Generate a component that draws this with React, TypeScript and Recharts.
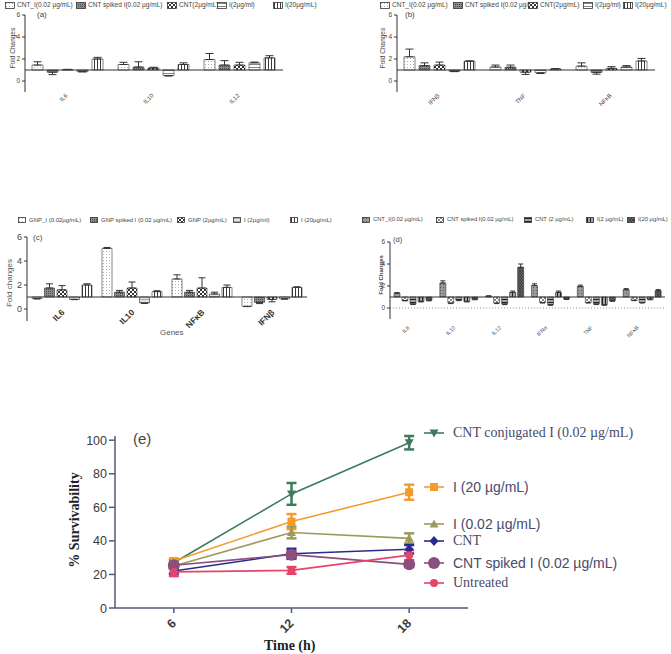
import React from "react";
import { BarChart, Bar, XAxis, YAxis, ErrorBar, ReferenceLine, LineChart, Line } from "recharts";

const SANS = "'Liberation Sans', Arial, sans-serif";
const SERIF = "'Liberation Serif', 'Times New Roman', serif";

// (a) CNT conjugate, interleukins
const genesA = ["IL6", "IL10", "IL12"];
const namesA = ["CNT_I(0.02 µg/mL)", "CNT spiked I(0.02 µg/mL)", "CNT(2µg/mL)", "I(2µg/ml)", "I(20µg/mL)"];
const a_cntI = [1.45, 1.5, 1.95];
const a_cntIErr = [0.3, 0.2, 0.55];
const a_spiked = [0.8, 1.27, 1.45];
const a_spikedErr = [0.22, 0.48, 0.4];
const a_cnt2 = [1.03, 1.18, 1.45];
const a_cnt2Err = [0.03, 0.07, 0.25];
const a_i2 = [0.85, 0.5, 1.65];
const a_i2Err = [0.02, 0.05, 0.07];
const a_i20 = [2.0, 1.5, 2.1];
const a_i20Err = [0.15, 0.15, 0.2];

// (b) CNT conjugate, IFN / TNF / NFkB
const genesB = ["IFNβ", "TNF", "NFκB"];
const namesB = ["CNT_I(0.02 µg/mL)", "CNT spiked I(0.02 µg/mL", "CNT(2µg/mL)", "I(2µg/ml)", "I(20µg/mL)"];
const b_cntI = [2.2, 1.27, 1.35];
const b_cntIErr = [0.7, 0.18, 0.3];
const b_spiked = [1.4, 1.25, 0.78];
const b_spikedErr = [0.25, 0.2, 0.16];
const b_cnt2 = [1.45, 0.8, 1.15];
const b_cnt2Err = [0.27, 0.2, 0.15];
const b_i2 = [0.88, 0.75, 1.27];
const b_i2Err = [0.03, 0.07, 0.13];
const b_i20 = [1.8, 1.1, 1.82];
const b_i20Err = [0.03, 0.02, 0.23];

// (c) GNP conjugate
const genesC = ["IL6", "IL10", "NFκB", "IFNβ"];
const namesC = ["GNP_I (0.02µg/mL)", "GNP spiked I (0.02 µg/mL)", "GNP (2µg/mL)", "I (2µg/ml)", "I (20µg/mL)"];
const c_gnpI = [0.88, 5.05, 2.5, 0.22];
const c_gnpIErr = [0.05, 0.08, 0.35, 0.02];
const c_spiked = [1.75, 1.4, 1.4, 0.55];
const c_spikedErr = [0.35, 0.15, 0.15, 0.1];
const c_gnp2 = [1.6, 1.75, 1.75, 0.8];
const c_gnp2Err = [0.35, 0.5, 0.85, 0.2];
const c_i2 = [0.8, 0.5, 1.25, 0.85];
const c_i2Err = [0.02, 0.03, 0.15, 0.03];
const c_i20 = [2.0, 1.45, 1.8, 1.8];
const c_i20Err = [0.1, 0.07, 0.2, 0.05];

// (d) CNT conjugate, six genes
const genesD = ["IL6", "IL10", "IL12", "IFNα", "TNF", "NFκB"];
const namesD = ["CNT_I(0.02 µg/mL)", "CNT spiked I(0.02 µg/mL)", "CNT (2 µg/mL)", "I(2 µg/mL)", "I(20 µg/mL)"];
const d_cntI = [1.35, 2.27, 1.08, 2.05, 1.96, 1.66];
const d_cntIErr = [0.05, 0.2, 0.02, 0.15, 0.12, 0.1];
const d_spiked = [0.68, 0.45, 0.45, 0.5, 0.5, 0.7];
const d_spikedErr = [0.03, 0.05, 0.05, 0.05, 0.05, 0.03];
const d_cnt2 = [0.36, 0.72, 0.36, 0.3, 0.36, 0.5];
const d_cnt2Err = [0.05, 0.05, 0.05, 0.05, 0.05, 0.05];
const d_i2 = [0.6, 0.6, 1.42, 1.42, 0.3, 0.8];
const d_i2Err = [0.05, 0.05, 0.12, 0.12, 0.05, 0.05];
const d_i20 = [0.7, 0.8, 3.7, 0.82, 0.66, 1.57];
const d_i20Err = [0.05, 0.05, 0.3, 0.05, 0.05, 0.1];

// (e) survivability over time
const hours = [6, 12, 18];
const conj = [27, 68, 98.5];
const conjErr = [1.5, 6.5, 4];
const i20 = [28, 51.5, 69];
const i20Err = [1.5, 4.5, 4.5];
const i002 = [25, 45, 41.5];
const i002Err = [1.5, 3.5, 3];
const cnt = [22, 32.3, 35];
const cntErr = [1.5, 3, 2.5];
const spiked = [25.5, 31.8, 26];
const spikedErr = [1.5, 2, 1.5];
const untreated = [21.5, 22.4, 31.5];
const untreatedErr = [2.5, 2, 3];

const AXIS_E = "#55587a";

const Patterns = () => (
  <svg width={0} height={0} style={{ position: "absolute" }}>
    <defs>
      <pattern id="pDots" width="3" height="3" patternUnits="userSpaceOnUse">
        <rect width="3" height="3" fill="#fff" />
        <circle cx="1.5" cy="1.5" r="0.5" fill="#999" />
      </pattern>
      <pattern id="pDark" width="2" height="2" patternUnits="userSpaceOnUse">
        <rect width="2" height="2" fill="#8c8c8c" />
        <rect width="1" height="1" fill="#4a4a4a" />
      </pattern>
      <pattern id="pCheck" width="4" height="4" patternUnits="userSpaceOnUse">
        <rect width="4" height="4" fill="#fff" />
        <rect width="2" height="2" fill="#333" />
        <rect x="2" y="2" width="2" height="2" fill="#333" />
      </pattern>
      <pattern id="pHoriz" width="3" height="3" patternUnits="userSpaceOnUse">
        <rect width="3" height="3" fill="#fff" />
        <line x1="0" y1="1.5" x2="3" y2="1.5" stroke="#666" strokeWidth="0.8" />
      </pattern>
      <pattern id="pVert" width="3" height="3" patternUnits="userSpaceOnUse">
        <rect width="3" height="3" fill="#fff" />
        <line x1="1.5" y1="0" x2="1.5" y2="3" stroke="#222" strokeWidth="0.9" />
      </pattern>
      <pattern id="pHorizLight" width="3" height="3" patternUnits="userSpaceOnUse">
        <rect width="3" height="3" fill="#e4e4e4" />
        <line x1="0" y1="1.5" x2="3" y2="1.5" stroke="#999" strokeWidth="0.8" />
      </pattern>
      <pattern id="pGrayDots" width="3" height="3" patternUnits="userSpaceOnUse">
        <rect width="3" height="3" fill="#9a9a9a" />
        <circle cx="1.5" cy="1.5" r="0.6" fill="#555" />
      </pattern>
      <pattern id="pCheckLight" width="4" height="4" patternUnits="userSpaceOnUse">
        <rect width="4" height="4" fill="#fff" />
        <rect width="2" height="2" fill="#888" />
        <rect x="2" y="2" width="2" height="2" fill="#888" />
      </pattern>
      <pattern id="pHorizDark" width="3" height="3" patternUnits="userSpaceOnUse">
        <rect width="3" height="3" fill="#ddd" />
        <line x1="0" y1="1.5" x2="3" y2="1.5" stroke="#222" strokeWidth="1.6" />
      </pattern>
      <pattern id="pVertDark" width="3" height="3" patternUnits="userSpaceOnUse">
        <rect width="3" height="3" fill="#ddd" />
        <line x1="1.5" y1="0" x2="1.5" y2="3" stroke="#222" strokeWidth="1.6" />
      </pattern>
      <pattern id="pDarkCross" width="3" height="3" patternUnits="userSpaceOnUse">
        <rect width="3" height="3" fill="#666" />
        <path d="M0,0L3,3M3,0L0,3" stroke="#333" strokeWidth="0.7" />
      </pattern>
    </defs>
  </svg>
);

const fillsAB = ["url(#pDots)", "url(#pDark)", "url(#pCheck)", "url(#pHoriz)", "url(#pVert)"];
const fillsC = ["url(#pDots)", "url(#pDark)", "url(#pCheck)", "url(#pHorizLight)", "url(#pVert)"];
const fillsD = ["url(#pGrayDots)", "url(#pCheckLight)", "url(#pHorizDark)", "url(#pVertDark)", "url(#pDarkCross)"];

const Txt = ({ x, y, fs, children, color = "#444", family = SANS, weight = "normal", rotate = false }: any) => (
  <div
    style={{
      position: "absolute",
      left: x,
      top: y,
      fontSize: fs,
      lineHeight: 1,
      color,
      fontFamily: family,
      fontWeight: weight,
      whiteSpace: "nowrap",
      transform: rotate ? "translate(-50%, -50%) rotate(-90deg)" : "translateY(-50%)",
    }}
  >
    {children}
  </div>
);

const BarLegend = ({ xs, y, names, fills, fs, box, gap = 2 }: any) => (
  <>
    {names.map((n: string, i: number) => (
      <div
        key={i}
        style={{
          position: "absolute",
          left: xs[i],
          top: y - box[1] / 2,
          display: "flex",
          alignItems: "center",
          fontSize: fs,
          lineHeight: 1,
          color: "#444",
          fontFamily: SANS,
          whiteSpace: "nowrap",
        }}
      >
        <svg width={box[0]} height={box[1]} style={{ marginRight: gap, flex: "none" }}>
          <rect x={0.5} y={0.5} width={box[0] - 1} height={box[1] - 1} fill={fills[i]} stroke="#333" strokeWidth={0.8} />
        </svg>
        <span>{n}</span>
      </div>
    ))}
  </>
);

function BarPanel(props: any) {
  const { left, top, width, height, plot, cats, values, errors, fills, gap, catGap, tickFs, catFs, catDx, catDy, catColor, catWeight, errW, dotted } = props;
  const rows = cats.map((c: string, i: number) => {
    const r: Record<string, any> = { cat: c };
    values.forEach((vals: number[], k: number) => {
      r["v" + k] = vals[i] - 1;
      r["e" + k] = vals[i] >= 1 ? [0, errors[k][i]] : [errors[k][i], 0];
    });
    return r;
  });
  const yw = 20;
  const xh = 25;
  const margin = {
    top: plot.top - top,
    left: plot.left - left - yw,
    right: left + width - plot.right,
    bottom: top + height - plot.bottom - xh,
  };
  return (
    <div style={{ position: "absolute", left, top }}>
      <BarChart width={width} height={height} data={rows} margin={margin} barGap={gap} barCategoryGap={catGap}>
        <XAxis
          dataKey="cat"
          axisLine={false}
          tickLine={false}
          tickSize={0}
          tickMargin={0}
          height={xh}
          interval={0}
          tick={(p: any) => (
            <text
              transform={`translate(${p.x + catDx},${p.y + catDy}) rotate(-45)`}
              textAnchor="end"
              fontSize={catFs}
              fontFamily={SANS}
              fontWeight={catWeight}
              fill={catColor}
            >
              {p.payload.value}
            </text>
          )}
        />
        <YAxis
          type="number"
          domain={[-2, 5]}
          ticks={[-1, 1, 3, 5]}
          tickFormatter={(v: number) => String(v + 1)}
          width={yw}
          tickSize={3}
          tickMargin={2}
          axisLine={{ stroke: "#333" }}
          tickLine={{ stroke: "#333" }}
          tick={{ fontSize: tickFs, fill: "#444", fontFamily: SANS }}
          allowDataOverflow
        />
        {dotted && <ReferenceLine y={-1} stroke="#999" strokeDasharray="1 2" />}
        <ReferenceLine y={0} stroke="#333" strokeWidth={1} />
        {values.map((_: any, k: number) => (
          <Bar key={k} dataKey={"v" + k} fill={fills[k]} stroke="#333" strokeWidth={0.6} isAnimationActive={false}>
            <ErrorBar dataKey={"e" + k} width={errW} stroke="#333" strokeWidth={1} direction="y" />
          </Bar>
        ))}
      </BarChart>
    </div>
  );
}

const survSeries = [
  { key: "conj", err: "conjErr", name: "CNT conjugated I (0.02  µg/mL)", color: "#3d7b5c", shape: "down", font: SERIF },
  { key: "i20", err: "i20Err", name: "I (20 µg/mL)", color: "#f39c2c", shape: "square", font: SANS },
  { key: "i002", err: "i002Err", name: "I (0.02 µg/mL)", color: "#9c9a5e", shape: "up", font: SANS },
  { key: "cnt", err: "cntErr", name: "CNT", color: "#2b2b8c", shape: "diamond", font: SERIF },
  { key: "spiked", err: "spikedErr", name: "CNT spiked I (0.02 µg/mL)", color: "#8a4f7d", shape: "big", font: SANS },
  { key: "untreated", err: "untreatedErr", name: "Untreated", color: "#e6446a", shape: "small", font: SERIF },
];
const legendYE = [433, 487, 524, 541, 563, 583];

const survRows = hours.map((t, i) => ({
  t,
  conj: conj[i], conjErr: conjErr[i],
  i20: i20[i], i20Err: i20Err[i],
  i002: i002[i], i002Err: i002Err[i],
  cnt: cnt[i], cntErr: cntErr[i],
  spiked: spiked[i], spikedErr: spikedErr[i],
  untreated: untreated[i], untreatedErr: untreatedErr[i],
}));

const Mark = ({ cx, cy, shape, color }: any) => {
  if (cx == null || cy == null) return null;
  switch (shape) {
    case "down":
      return <path d={`M${cx - 4.5},${cy - 3.5}L${cx + 4.5},${cy - 3.5}L${cx},${cy + 4.5}Z`} fill={color} />;
    case "up":
      return <path d={`M${cx - 4.5},${cy + 3.5}L${cx + 4.5},${cy + 3.5}L${cx},${cy - 4.5}Z`} fill={color} />;
    case "square":
      return <rect x={cx - 4} y={cy - 4} width={8} height={8} fill={color} />;
    case "diamond":
      return <path d={`M${cx},${cy - 5}L${cx + 4.5},${cy}L${cx},${cy + 5}L${cx - 4.5},${cy}Z`} fill={color} />;
    case "big":
      return <circle cx={cx} cy={cy} r={6} fill={color} />;
    default:
      return <circle cx={cx} cy={cy} r={4} fill={color} />;
  }
};

const SurvYTick = ({ x, y, payload }: any) => {
  const major = payload.value % 20 === 0;
  return (
    <g>
      <line x1={x - (major ? 6 : 3)} x2={x} y1={y} y2={y} stroke={AXIS_E} strokeWidth={1.5} />
      {major && (
        <text x={x - 8} y={y} dy={4.5} textAnchor="end" fontSize={12.5} fontFamily={SANS} fill="#3a3a3a">
          {payload.value}
        </text>
      )}
    </g>
  );
};

const SurvXTick = ({ x, y, payload }: any) => (
  <text transform={`translate(${x + 3},${y + 9}) rotate(-45)`} textAnchor="end" fontSize={12.5} fontFamily={SANS} fontWeight="bold" fill="#3a3a3a">
    {payload.value}
  </text>
);

export default function App() {
  return (
    <div style={{ position: "absolute", left: 0, top: 0, width: 671, height: 654, background: "#fff", overflow: "hidden" }}>
      <Patterns />

      {/* (a) */}
      <BarLegend xs={[5, 76, 167, 217, 273]} y={5} names={namesA} fills={fillsAB} fs={6.5} box={[10, 7]} />
      <Txt x={37} y={15} fs={8}>(a)</Txt>
      <Txt x={13} y={48} fs={6.5} rotate>Fold Changes</Txt>
      <BarPanel
        left={0} top={0} width={290} height={125}
        plot={{ left: 25, right: 283, top: 15, bottom: 92 }}
        cats={genesA}
        values={[a_cntI, a_spiked, a_cnt2, a_i2, a_i20]}
        errors={[a_cntIErr, a_spikedErr, a_cnt2Err, a_i2Err, a_i20Err]}
        fills={fillsAB} gap={4} catGap={7} tickFs={6.5} catFs={6} catDx={0} catDy={4} catColor="#444" catWeight="normal" errW={4}
      />

      {/* (b) */}
      <BarLegend xs={[380, 453, 528, 583, 623]} y={5} names={namesB} fills={fillsAB} fs={6.5} box={[10, 7]} />
      <Txt x={405} y={15} fs={8}>(b)</Txt>
      <Txt x={383} y={48} fs={6.5} rotate>Fold Changes</Txt>
      <BarPanel
        left={340} top={0} width={320} height={125}
        plot={{ left: 397, right: 655, top: 15, bottom: 92 }}
        cats={genesB}
        values={[b_cntI, b_spiked, b_cnt2, b_i2, b_i20]}
        errors={[b_cntIErr, b_spikedErr, b_cnt2Err, b_i2Err, b_i20Err]}
        fills={fillsAB} gap={4} catGap={7} tickFs={6.5} catFs={6} catDx={0} catDy={4} catColor="#444" catWeight="normal" errW={4}
      />

      {/* (c) */}
      <BarLegend xs={[18, 90, 177, 233, 290]} y={220} names={namesC} fills={fillsC} fs={6} box={[8, 6]} gap={3} />
      <Txt x={33} y={238} fs={8}>(c)</Txt>
      <Txt x={10} y={283} fs={8} color="#555" rotate>Fold changes</Txt>
      <Txt x={160} y={333} fs={8} color="#555">Genes</Txt>
      <BarPanel
        left={0} top={205} width={312} height={149}
        plot={{ left: 27, right: 307, top: 237, bottom: 321 }}
        cats={genesC}
        values={[c_gnpI, c_spiked, c_gnp2, c_i2, c_i20]}
        errors={[c_gnpIErr, c_spikedErr, c_gnp2Err, c_i2Err, c_i20Err]}
        fills={fillsC} gap={2.5} catGap={5} tickFs={9} catFs={8.5} catDx={3} catDy={-8} catColor="#333" catWeight="bold" errW={3.5}
      />

      {/* (d) */}
      <BarLegend xs={[362, 436, 524, 586, 627]} y={220} names={namesD} fills={fillsD} fs={5.8} box={[8, 6]} gap={3} />
      <Txt x={393} y={240} fs={7.5}>(d)</Txt>
      <Txt x={381} y={275} fs={6} weight="bold" rotate>Fold Changes</Txt>
      <BarPanel
        left={340} top={205} width={330} height={147}
        plot={{ left: 390, right: 665, top: 242, bottom: 319 }}
        cats={genesD}
        values={[d_cntI, d_spiked, d_cnt2, d_i2, d_i20]}
        errors={[d_cntIErr, d_spikedErr, d_cnt2Err, d_i2Err, d_i20Err]}
        fills={fillsD} gap={2} catGap={4} tickFs={6.5} catFs={5.5} catDx={-3} catDy={9} catColor="#555" catWeight="normal" errW={2.5} dotted
      />

      {/* (e) */}
      <Txt x={133} y={438} fs={15} color="#444">(e)</Txt>
      <Txt x={75} y={520} fs={14} color="#222" family={SERIF} weight="bold" rotate>% Survivability</Txt>
      <Txt x={264} y={646} fs={14} color="#222" family={SERIF} weight="bold">Time (h)</Txt>
      <div style={{ position: "absolute", left: 0, top: 400 }}>
        <LineChart width={480} height={254} data={survRows} margin={{ top: 36, right: 12, left: 70, bottom: 16 }}>
          <XAxis
            dataKey="t"
            type="number"
            domain={[3, 21]}
            ticks={hours}
            height={30}
            tickSize={5}
            tickMargin={2}
            axisLine={{ stroke: AXIS_E, strokeWidth: 1.5 }}
            tickLine={{ stroke: AXIS_E, strokeWidth: 1.5 }}
            tick={(p: any) => <SurvXTick {...p} />}
          />
          <YAxis
            type="number"
            domain={[0, 100]}
            ticks={[0, 10, 20, 30, 40, 50, 60, 70, 80, 90, 100]}
            width={45}
            tickSize={0}
            tickMargin={0}
            tickLine={false}
            axisLine={{ stroke: AXIS_E, strokeWidth: 1.5 }}
            tick={(p: any) => <SurvYTick {...p} />}
          />
          {survSeries.map((s) => (
            <Line
              key={s.key}
              dataKey={s.key}
              stroke={s.color}
              strokeWidth={1.6}
              isAnimationActive={false}
              dot={(p: any) => <Mark key={p.index} cx={p.cx} cy={p.cy} shape={s.shape} color={s.color} />}
              activeDot={false}
            >
              <ErrorBar dataKey={s.err} width={5} stroke={s.color} strokeWidth={2.5} direction="y" />
            </Line>
          ))}
        </LineChart>
      </div>
      {survSeries.map((s, i) => (
        <React.Fragment key={s.key}>
          <svg style={{ position: "absolute", left: 424, top: legendYE[i] - 7 }} width={20} height={14}>
            <line x1={0} x2={20} y1={7} y2={7} stroke={s.color} strokeWidth={1.6} />
            <Mark cx={10} cy={7} shape={s.shape} color={s.color} />
          </svg>
          <Txt x={453} y={legendYE[i]} fs={14} color="#4a4a6a" family={s.font}>{s.name}</Txt>
        </React.Fragment>
      ))}
    </div>
  );
}
